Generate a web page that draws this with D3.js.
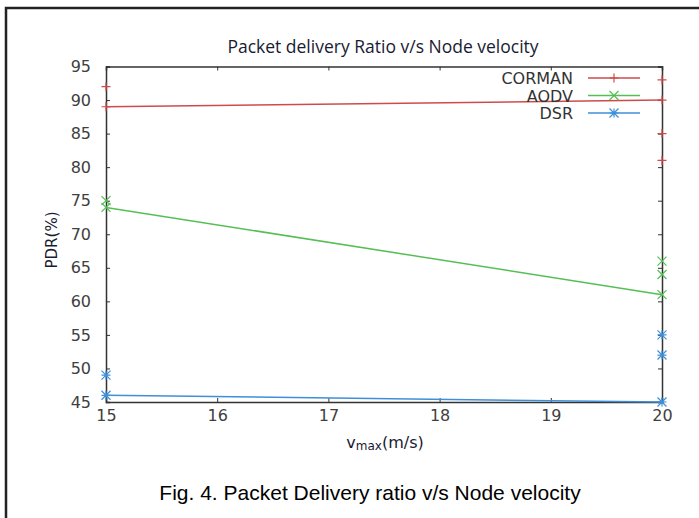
<!DOCTYPE html>
<html lang="en">
<head>
  <meta charset="UTF-8">
  <title>Packet delivery Ratio v/s Node velocity</title>
  <script src="https://d3js.org/d3.v7.min.js"></script>
  <style>
    body { margin: 0; background: #fff; }
    .tick-label { font: 16px "DejaVu Sans", sans-serif; fill: #404040; }
    .legend text { font: 16px "DejaVu Sans", sans-serif; fill: #333; }
  </style>
</head>
<body>
  <svg width="699" height="518"></svg>
  <script>
    // data
    const xTicks = [15, 16, 17, 18, 19, 20];
    const yTicks = [45, 50, 55, 60, 65, 70, 75, 80, 85, 90, 95];
    const seriesNames = ["CORMAN", "AODV", "DSR"];
    const seriesColors = ["#cf4b4b", "#55bf55", "#3f8fd8"];
    const seriesMarks = ["plus", "cross", "star"];
    // the line goes through these two points
    const cormanLine = [[15, 89], [20, 90]];
    const aodvLine = [[15, 74], [20, 61]];
    const dsrLine = [[15, 46], [20, 45]];
    // loose points drawn only as markers
    const cormanPoints = [[15, 92], [15, 89], [20, 93], [20, 90], [20, 85], [20, 81]];
    const aodvPoints = [[15, 75], [15, 74], [20, 66], [20, 64], [20, 61]];
    const dsrPoints = [[15, 49], [15, 46], [20, 55], [20, 52], [20, 45]];

    const lines = [cormanLine, aodvLine, dsrLine];
    const points = [cormanPoints, aodvPoints, dsrPoints];

    const svg = d3.select("svg");
    const pLeft = 106, pRight = 662, pTop = 66.5, pBottom = 402;

    const x = d3.scaleLinear().domain([15, 20]).range([pLeft, pRight]);
    const y = d3.scaleLinear().domain([45, 95]).range([pBottom, pTop]);

    // outer frame of the figure
    svg.append("path")
      .attr("d", "M6,520 V8 H700")
      .attr("fill", "none")
      .attr("stroke", "#222")
      .attr("stroke-width", 2.5);

    // title
    svg.append("text")
      .attr("x", (pLeft + pRight) / 2 - 1)
      .attr("y", 53)
      .attr("text-anchor", "middle")
      .style("font", "17.5px 'Open Sans', sans-serif")
      .style("fill", "#1a1a33")
      .text("Packet delivery Ratio v/s Node velocity");

    // axes, ticks point inwards and are mirrored like gnuplot
    const axisBottom = d3.axisBottom(x).tickValues(xTicks).tickFormat(d3.format("d")).tickSize(-4).tickPadding(8);
    const axisTop = d3.axisTop(x).tickValues(xTicks).tickSize(-4).tickFormat("");
    const axisLeft = d3.axisLeft(y).tickValues(yTicks).tickSize(-4).tickPadding(15);
    const axisRight = d3.axisRight(y).tickValues(yTicks).tickSize(-4).tickFormat("");

    function styleAxis(g) {
      g.attr("font-size", null).attr("font-family", null);
      g.select(".domain").attr("stroke", "#333").attr("stroke-width", 1.5);
      g.selectAll(".tick line").attr("stroke", "#333");
      g.selectAll(".tick text").attr("class", "tick-label").attr("fill", null);
    }

    svg.append("g").attr("transform", `translate(0,${pBottom})`).call(axisBottom).call(styleAxis);
    svg.append("g").attr("transform", `translate(0,${pTop})`).call(axisTop).call(styleAxis);
    svg.append("g").attr("transform", `translate(${pLeft},0)`).call(axisLeft).call(styleAxis);
    svg.append("g").attr("transform", `translate(${pRight},0)`).call(axisRight).call(styleAxis);

    // axis titles
    svg.append("text")
      .attr("transform", "translate(57,240) rotate(-90)")
      .attr("text-anchor", "middle")
      .style("font", "15px 'DejaVu Sans', sans-serif")
      .style("fill", "#1a1a33")
      .text("PDR(%)");

    const xl = svg.append("text")
      .attr("x", 385)
      .attr("y", 448)
      .attr("text-anchor", "middle")
      .style("font", "16px 'DejaVu Sans', sans-serif")
      .style("fill", "#1a1a33");
    xl.append("tspan").text("v");
    xl.append("tspan").attr("dy", 2).style("font-size", "12px").text("max");
    xl.append("tspan").attr("dy", -2).text("(m/s)");

    // markers
    const markSize = 4.5;
    function markPath(kind) {
      const s = markSize;
      const plus = `M${-s},0H${s}M0,${-s}V${s}`;
      const cross = `M${-s},${-s}L${s},${s}M${-s},${s}L${s},${-s}`;
      if (kind === "plus") return plus;
      if (kind === "cross") return cross;
      return plus + cross;
    }

    const line = d3.line().x(d => x(d[0])).y(d => y(d[1]));

    lines.forEach((data, i) => {
      svg.append("path")
        .datum(data)
        .attr("d", line)
        .attr("fill", "none")
        .attr("stroke", seriesColors[i])
        .attr("stroke-width", 1.5);

      svg.selectAll(null)
        .data(points[i])
        .enter().append("path")
        .attr("transform", d => `translate(${x(d[0])},${y(d[1])})`)
        .attr("d", markPath(seriesMarks[i]))
        .attr("fill", "none")
        .attr("stroke", seriesColors[i])
        .attr("stroke-width", 1.2);
    });

    // legend
    const legend = svg.append("g").attr("class", "legend");
    seriesNames.forEach((name, i) => {
      const ly = 78 + i * 17.5;
      legend.append("text")
        .attr("x", 573)
        .attr("y", ly + 6)
        .attr("text-anchor", "end")
        .text(name);
      legend.append("line")
        .attr("x1", 588).attr("x2", 640)
        .attr("y1", ly).attr("y2", ly)
        .attr("stroke", seriesColors[i])
        .attr("stroke-width", 1.5);
      legend.append("path")
        .attr("transform", `translate(614,${ly})`)
        .attr("d", markPath(seriesMarks[i]))
        .attr("fill", "none")
        .attr("stroke", seriesColors[i])
        .attr("stroke-width", 1.2);
    });

    // caption
    svg.append("text")
      .attr("x", 370)
      .attr("y", 500)
      .attr("text-anchor", "middle")
      .style("font", "21px 'Liberation Sans', Arial, sans-serif")
      .style("fill", "#000")
      .text("Fig. 4. Packet Delivery ratio v/s Node velocity");
  </script>
</body>
</html>
